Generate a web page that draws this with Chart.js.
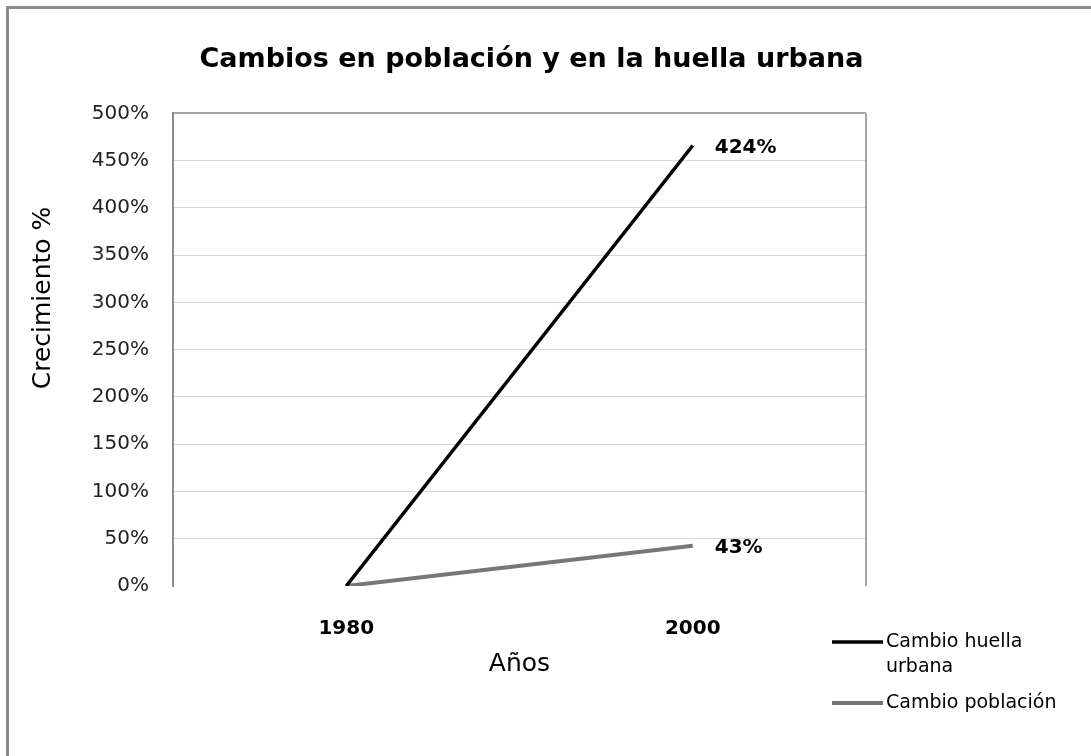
<!DOCTYPE html>
<html>
<head>
<meta charset="utf-8">
<script src="https://cdn.jsdelivr.net/npm/chart.js@4.4.0/dist/chart.umd.min.js"></script>
<style>
  html, body { margin: 0; padding: 0; background: #fff; }
  #frame {
    position: absolute; left: 6px; top: 6px; width: 1085px; height: 750px;
    border-left: 3px solid #8c8c8c; border-top: 3px solid #8c8c8c;
  }
  #wrap { position: absolute; left: 0; top: 0; width: 1091px; height: 756px; }
</style>
</head>
<body>
<div id="frame"></div>
<div id="wrap"><canvas id="chart"></canvas></div>
<script>
const years = ["1980", "2000"];
const huellaUrbana = [0, 466];
const poblacion = [0, 42.5];
const endLabels = ["424%", "43%"];
const seriesNames = [["Cambio huella", "urbana"], ["Cambio población"]];
const yTitle = "Crecimiento %";

const FONT = "'DejaVu Sans', sans-serif";

// plot frame, y title, end labels and the legend at the lower right
const extras = {
  id: "extras",
  beforeDatasetsDraw(chart) {
    const { ctx, chartArea: a } = chart;
    ctx.save();
    ctx.strokeStyle = "#a6a6a6";
    ctx.lineWidth = 2;
    ctx.beginPath();
    ctx.moveTo(a.right, a.top);
    ctx.lineTo(a.right, a.bottom);
    ctx.stroke();
    ctx.restore();
  },
  afterDraw(chart) {
    const { ctx } = chart;
    ctx.save();
    ctx.fillStyle = "#000";

    // y axis title sits a bit above the middle of the axis
    ctx.save();
    ctx.translate(43, 298);
    ctx.rotate(-Math.PI / 2);
    ctx.font = "25px " + FONT;
    ctx.textAlign = "center";
    ctx.textBaseline = "middle";
    ctx.fillText(yTitle, 0, 0);
    ctx.restore();

    ctx.font = "bold 20px " + FONT;
    ctx.textBaseline = "middle";
    ctx.textAlign = "left";
    chart.data.datasets.forEach((ds, i) => {
      const pts = chart.getDatasetMeta(i).data;
      const p = pts[pts.length - 1];
      ctx.fillText(endLabels[i], p.x + 22, p.y + 2);
    });

    const rows = [642, 703];
    ctx.font = "19px " + FONT;
    chart.data.datasets.forEach((ds, i) => {
      const y = rows[i];
      ctx.strokeStyle = ds.borderColor;
      ctx.lineWidth = ds.borderWidth;
      ctx.beginPath();
      ctx.moveTo(832, y);
      ctx.lineTo(883, y);
      ctx.stroke();
      seriesNames[i].forEach((t, j) => ctx.fillText(t, 886, y + j * 25));
    });
    ctx.restore();
  }
};

new Chart(document.getElementById("chart"), {
  type: "line",
  data: {
    labels: years,
    datasets: [
      { label: "Cambio huella urbana", data: huellaUrbana, borderColor: "#000", borderWidth: 3.5, pointRadius: 0, tension: 0 },
      { label: "Cambio población", data: poblacion, borderColor: "#777", borderWidth: 4, pointRadius: 0, tension: 0 }
    ]
  },
  options: {
    responsive: true,
    maintainAspectRatio: false,
    animation: false,
    events: [],
    layout: { padding: { left: 10, right: 38, top: 0, bottom: 70 } },
    plugins: {
      legend: { display: false },
      tooltip: { enabled: false },
      title: {
        display: true,
        text: "Cambios en población y en la huella urbana",
        color: "#000",
        font: { family: FONT, size: 27, weight: "bold" },
        padding: { top: 44, bottom: 37 }
      }
    },
    scales: {
      x: {
        offset: true,
        grid: { display: false, drawTicks: false },
        border: { display: false },
        ticks: { color: "#000", padding: 31, font: { family: FONT, size: 20, weight: "bold" } },
        title: { display: true, text: "Años", color: "#000", padding: { top: 0, bottom: 7 }, font: { family: FONT, size: 25 } },
        afterFit(s) { s.height = 100; }
      },
      y: {
        min: 0,
        max: 500,
        ticks: { stepSize: 50, color: "#222", padding: 24, font: { family: FONT, size: 20 }, callback: v => v + "%" },
        grid: {
          drawTicks: false,
          color: c => c.tick.value === 0 ? "rgba(0,0,0,0)" : (c.tick.value === 500 ? "#a6a6a6" : "#d9d9d9"),
          lineWidth: c => c.tick.value === 500 ? 2 : 1
        },
        border: { color: "#8c8c8c", width: 2 },
        afterFit(s) { s.width = 163; }
      },
      yR: {
        position: "right",
        grid: { display: false },
        border: { display: false },
        ticks: { display: false },
        afterFit(s) { s.width = 187; }
      }
    }
  },
  plugins: [extras]
});
</script>
</body>
</html>
